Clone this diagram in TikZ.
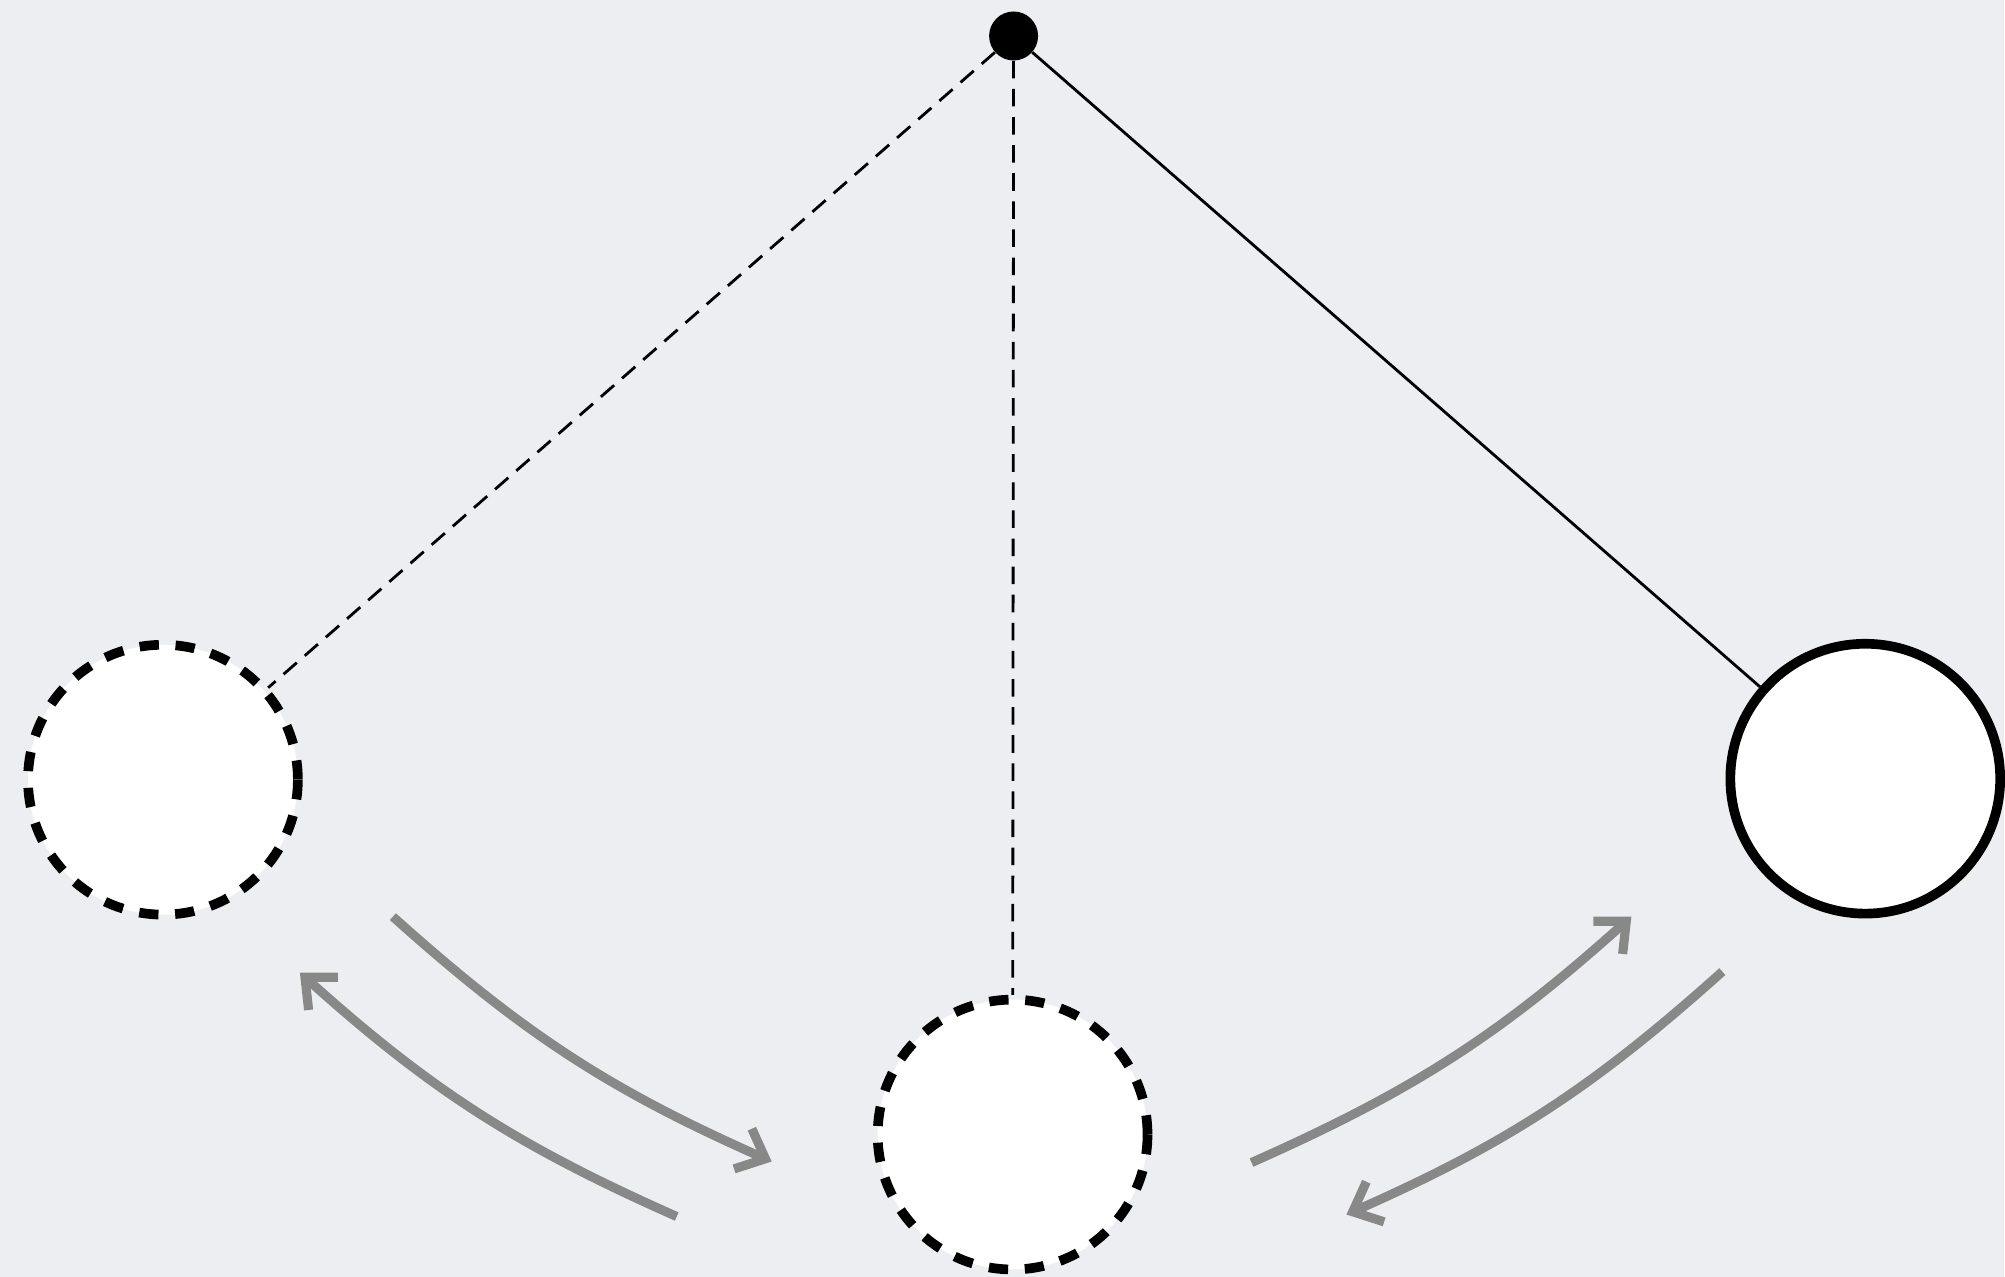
\documentclass[tikz,border=0pt]{standalone}
\usetikzlibrary{arrows.meta}
\definecolor{paper}{RGB}{237,238,242}
\definecolor{swing}{RGB}{136,136,136}
\begin{document}
\begin{tikzpicture}[x=0.02cm,y=-0.02cm,
  bob/.style={circle,fill=white,draw=black,line width=5.5pt,minimum size=5.4cm,inner sep=0pt},
  ghost/.style={bob,dash pattern=on 11pt off 9.5pt},
  cord/.style={line width=1.6pt},
  ghostcord/.style={cord,dash pattern=on 10pt off 6pt},
  swingarrow/.style={draw=swing,line width=5.2pt,
    -{Straight Barb[length=14pt,width=25pt,line join=miter]}}]
 \fill[paper] (0,0) rectangle (2005,1277);
 \node[circle,fill=black,minimum size=0.98cm,inner sep=0pt] (pivot) at (1014,36) {};
 \node[ghost] (ballL) at (163,780) {};
 \node[ghost] (ballM) at (1013,1135) {};
 \node[bob] (ballR) at (1866,779) {};
 \draw[ghostcord] (pivot) -- (ballL);
 \draw[ghostcord] (pivot) -- (ballM);
 \draw[cord] (pivot) -- (ballR);
 \coordinate (aL1) at (393,917);
 \coordinate (aL2) at (772,1162);
 \coordinate (aL3) at (677,1217);
 \coordinate (aL4) at (300,973);
 \coordinate (aR1) at (1252,1163);
 \coordinate (aR2) at (1632,917);
 \coordinate (aR3) at (1723,972);
 \coordinate (aR4) at (1347,1215);
 \draw[swingarrow] (aL1) to[bend right=9] (aL2);
 \draw[swingarrow] (aL3) to[bend left=9] (aL4);
 \draw[swingarrow] (aR1) to[bend right=9] (aR2);
 \draw[swingarrow] (aR3) to[bend left=9] (aR4);
\end{tikzpicture}
\end{document}
